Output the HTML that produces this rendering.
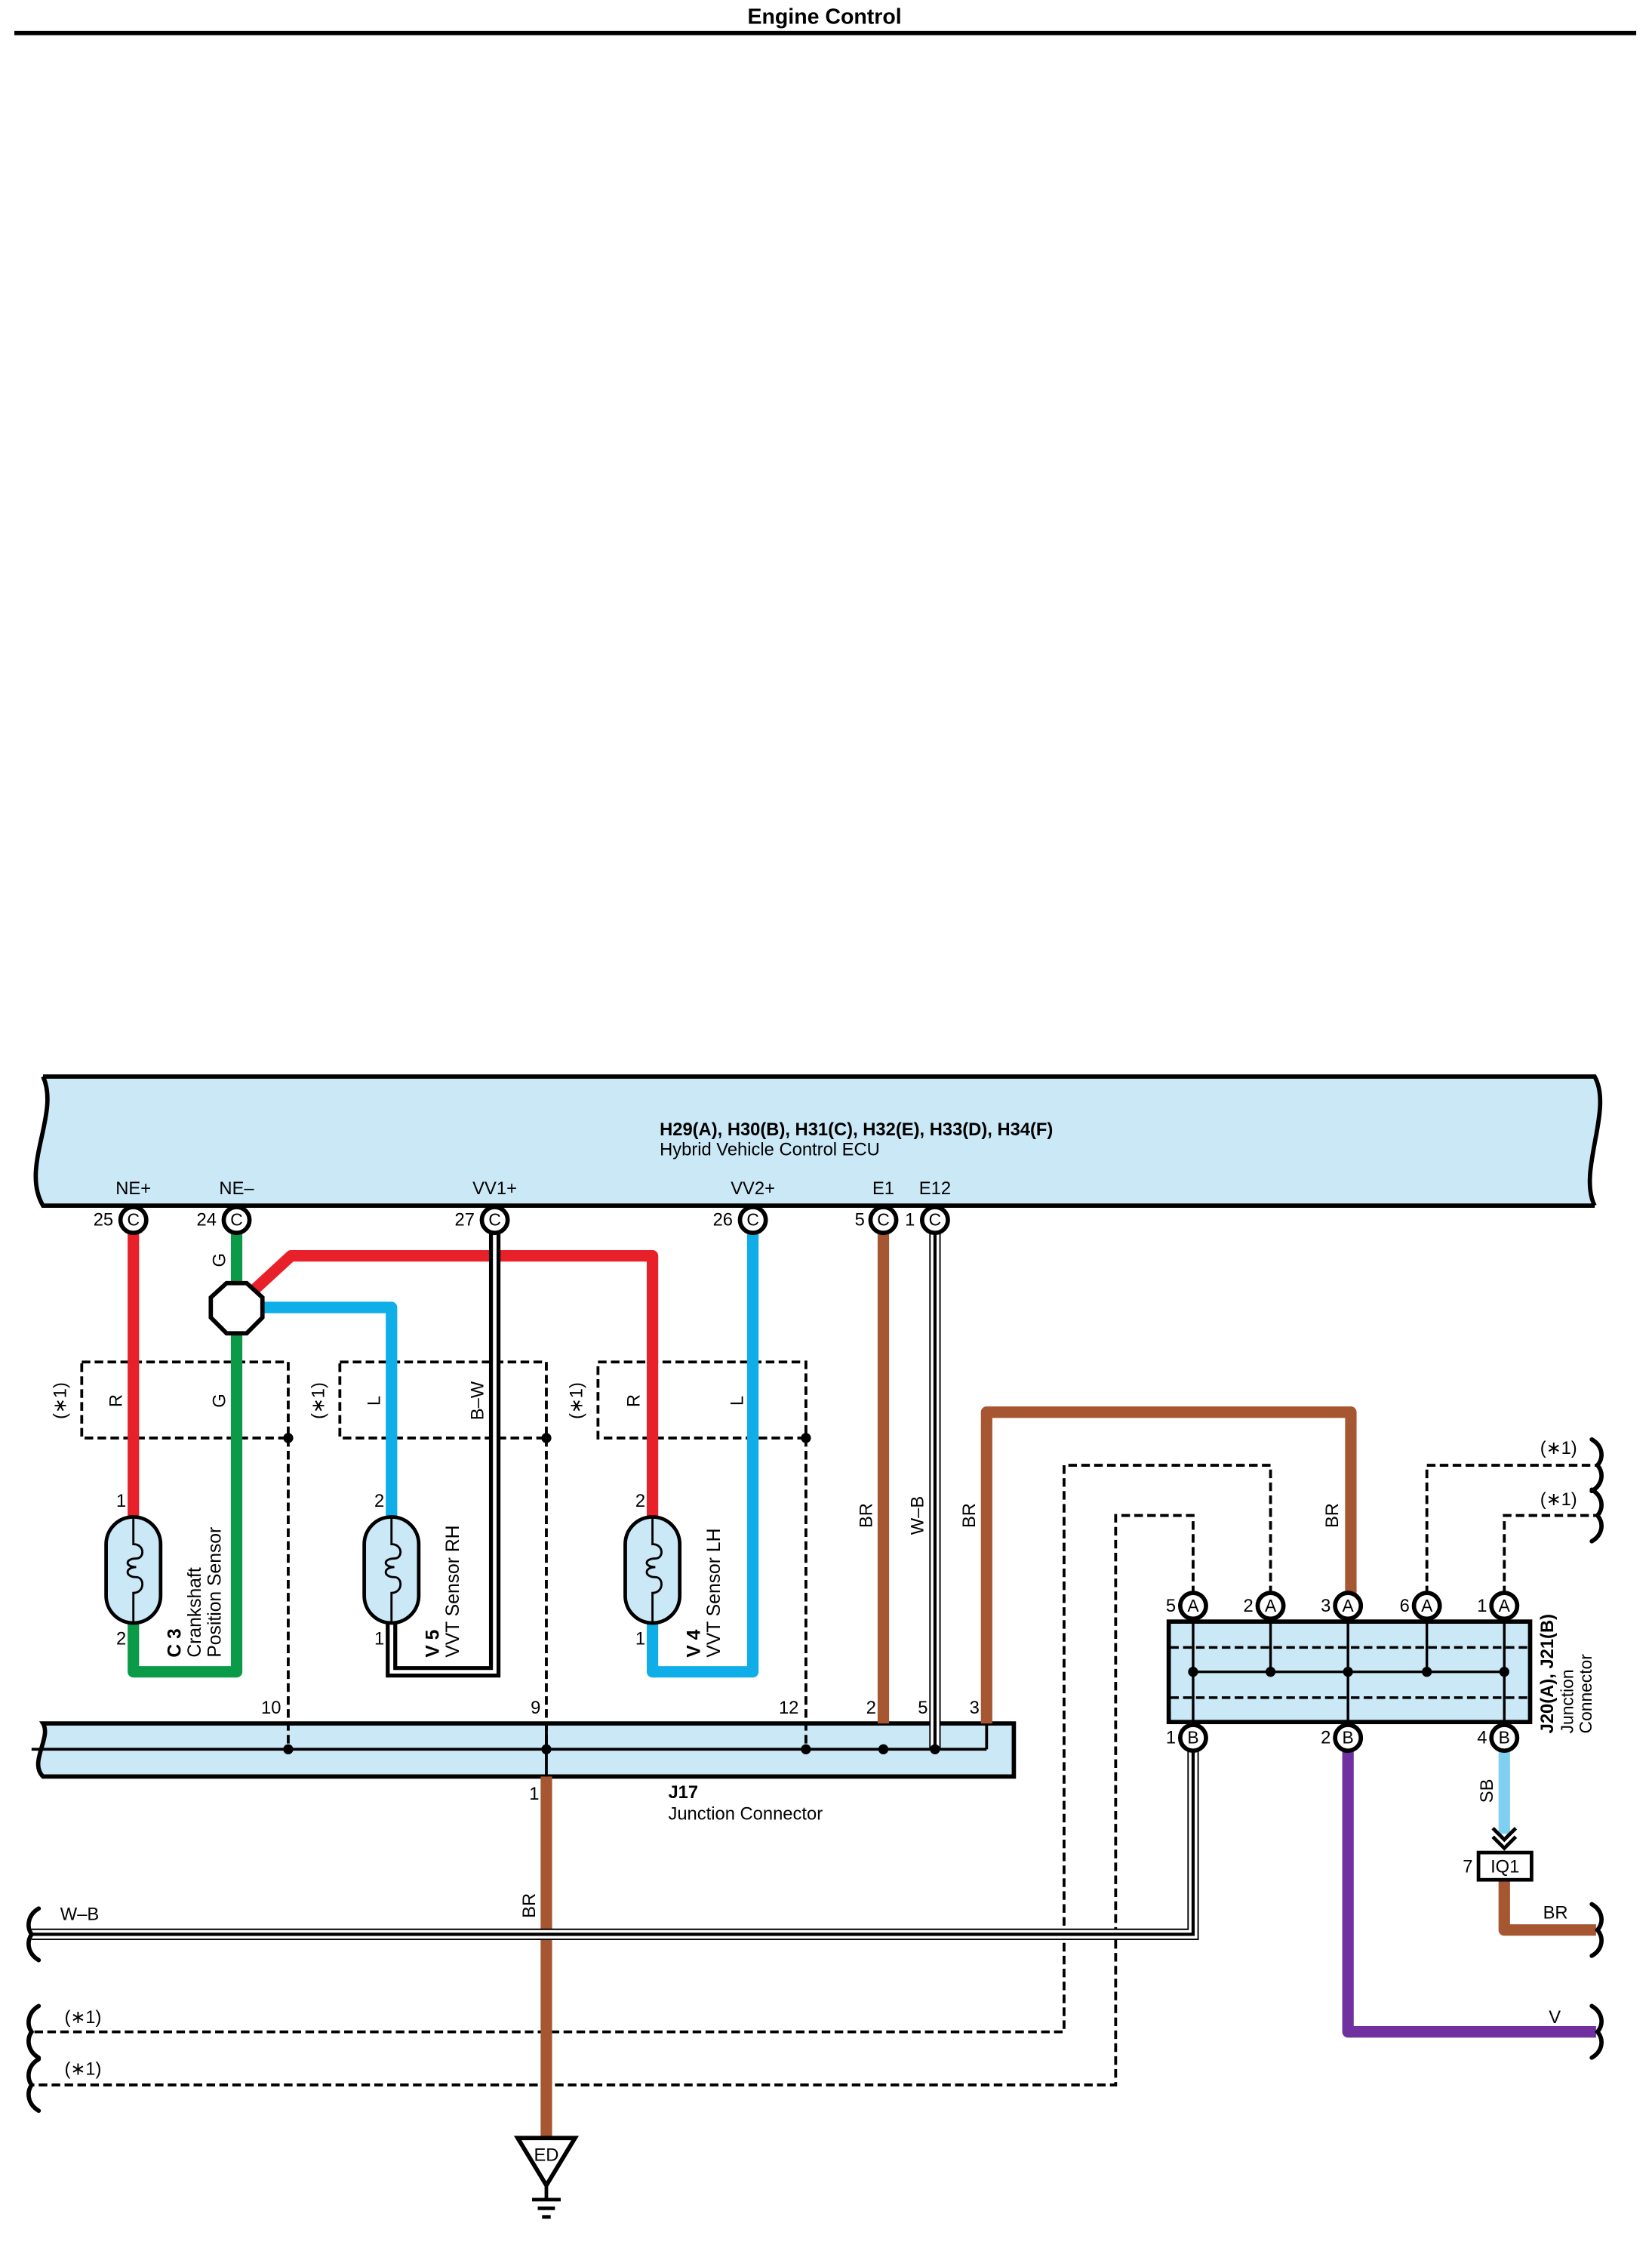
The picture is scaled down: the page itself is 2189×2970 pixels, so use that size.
<!DOCTYPE html>
<html><head><meta charset="utf-8"><style>html,body{margin:0;padding:0;background:#fff}svg{display:block}</style></head>
<body>
<svg width="2189" height="2970" viewBox="0 1.5 1152 1563" xmlns="http://www.w3.org/2000/svg" font-family="Liberation Sans, sans-serif" font-size="12.5">
<defs>
<g id="sensor">
<rect x="-19" y="-37" width="38" height="74" rx="19" fill="#cbe8f7" stroke="#000" stroke-width="2.5"/>
<path d="M0,-37 V-18 C8,-18 8,-8 2,-8 C-6,-8 -6,-2 2,-2 C-6,-2 -6,5 2,5 C8,5 8,16 0,16 V37" fill="none" stroke="#000" stroke-width="1.5"/>
</g>
</defs>
<rect y="0" width="1152" height="1570" fill="#fff"/>
<text x="575" y="18" font-size="15" font-weight="bold" text-anchor="middle">Engine Control</text>
<line x1="10" y1="24.5" x2="1141" y2="24.5" stroke="#000" stroke-width="3"/>

<path d="M30,752 L1112,752 C1125,775 1100,818 1112,842 L30,842 C14,815 42,778 30,752 Z" fill="#cbe8f7"/>
<path d="M30,752 L1112,752 C1125,775 1100,818 1112,842 M1112,842 L30,842 C14,815 42,778 30,752" fill="none" stroke="#000" stroke-width="3"/>
<text x="460" y="793" font-size="12.5" font-weight="bold">H29(A), H30(B), H31(C), H32(E), H33(D), H34(F)</text>
<text x="460" y="807" font-size="12.5">Hybrid Vehicle Control ECU</text>
<g text-anchor="middle">
<text x="93" y="834">NE+</text><text x="165" y="834">NE–</text><text x="345" y="834">VV1+</text><text x="525" y="834">VV2+</text><text x="616" y="834">E1</text><text x="652" y="834">E12</text>
</g>

<path d="M30,1203 L707,1203 L707,1240 L30,1240 C20,1230 36,1213 30,1203 Z" fill="#cbe8f7" stroke="#000" stroke-width="3"/>
<line x1="22" y1="1221" x2="688" y2="1221" stroke="#000" stroke-width="2"/>
<line x1="688" y1="1203" x2="688" y2="1221" stroke="#000" stroke-width="2"/>

<rect x="815" y="1132" width="252" height="70" fill="#cbe8f7" stroke="#000" stroke-width="3"/>
<g stroke="#000" stroke-width="1.8" stroke-dasharray="6,3"><line x1="816" y1="1150" x2="1066" y2="1150"/><line x1="816" y1="1185" x2="1066" y2="1185"/></g>
<g stroke="#000" stroke-width="1.8">
<line x1="832" y1="1167" x2="1049" y2="1167"/>
<line x1="832" y1="1125" x2="832" y2="1210"/><line x1="886" y1="1125" x2="886" y2="1167"/><line x1="940" y1="1125" x2="940" y2="1210"/><line x1="995" y1="1125" x2="995" y2="1167"/><line x1="1049" y1="1125" x2="1049" y2="1210"/>
</g>
<g fill="#000"><circle cx="832" cy="1167" r="3.5"/><circle cx="886" cy="1167" r="3.5"/><circle cx="940" cy="1167" r="3.5"/><circle cx="995" cy="1167" r="3.5"/><circle cx="1049" cy="1167" r="3.5"/></g>
<g font-size="12" transform="rotate(-90)">
<text x="-1210" y="1083" font-weight="bold" font-size="12.5">J20(A), J21(B)</text>
<text x="-1210" y="1097">Junction</text>
<text x="-1210" y="1110">Connector</text>
</g>

<g fill="none" stroke="#000" stroke-width="2" stroke-dasharray="6,3">
<path d="M201,1004 V1221 M381,1004 V1221 M562,1004 V1221"/>
<rect x="57" y="951" width="144" height="53"/>
<rect x="237" y="951" width="144" height="53"/>
<rect x="417" y="951" width="145" height="53"/>
<path d="M832,1113 V1058 H778 V1455 H22"/>
<path d="M886,1113 V1023 H742 V1418 H22"/>
<path d="M995,1113 V1023 H1113"/>
<path d="M1049,1113 V1058 H1113"/>
</g>
<g fill="#000"><circle cx="201" cy="1004" r="3.5"/><circle cx="381" cy="1004" r="3.5"/><circle cx="562" cy="1004" r="3.5"/></g>

<g fill="none" stroke-width="8" stroke-linejoin="round">
<path d="M93,858 V1060" stroke="#e8202a"/>
<path d="M93,1132 V1167 H165 V858" stroke="#0a9a48"/>
<path d="M178,900 L203,877 H455 V1060" stroke="#e8202a"/>
<path d="M182,913 H273 V1060" stroke="#10aee8"/>
<path d="M455,1132 V1167 H525 V858" stroke="#10aee8"/>
<path d="M616,858 V1203" stroke="#a65732"/>
<path d="M688,1203 V986 H942 V1113" stroke="#a65732"/>
<path d="M381,1240 V1492" stroke="#a65732"/>
<path d="M940,1221 V1418 H1113" stroke="#7030a0"/>
<path d="M1049,1221 V1280" stroke="#7fd0f0"/>
<path d="M1049,1312 V1347 H1113" stroke="#a65732"/>
</g>
<g fill="none">
<path d="M273,1132 V1167 H345 V858" stroke="#000" stroke-width="8"/>
<path d="M273,1132 V1167 H345 V858" stroke="#fff" stroke-width="2.5"/>
</g>
<g fill="none">
<path d="M652,858 V1221" stroke="#000" stroke-width="8"/>
<path d="M652,858 V1221" stroke="#fff" stroke-width="6"/>
<path d="M652,858 V1221" stroke="#000" stroke-width="2.2"/>
<path d="M832,1221 V1350 H22" stroke="#000" stroke-width="8"/>
<path d="M832,1221 V1350 H22" stroke="#fff" stroke-width="6"/>
<path d="M832,1221 V1350 H22" stroke="#000" stroke-width="2.2"/>
</g>
<g fill="#000"><circle cx="201" cy="1221" r="3.5"/><circle cx="381" cy="1221" r="3.5"/><circle cx="562" cy="1221" r="3.5"/><circle cx="616" cy="1221" r="3.5"/><circle cx="652" cy="1221" r="3.5"/></g>
<line x1="381" y1="1203" x2="381" y2="1240" stroke="#000" stroke-width="2"/>

<polygon points="158,896 172,896 183,906 183,920 172,931 158,931 147,920 147,906" fill="#fff" stroke="#000" stroke-width="3"/>

<use href="#sensor" x="93" y="1096"/>
<use href="#sensor" x="273" y="1096"/>
<use href="#sensor" x="455" y="1096"/>

<g fill="#fff" stroke="#000" stroke-width="3">
<circle cx="93" cy="852" r="9"/><circle cx="165" cy="852" r="9"/><circle cx="345" cy="852" r="9"/><circle cx="525" cy="852" r="9"/><circle cx="616" cy="852" r="9"/><circle cx="652" cy="852" r="9"/>
<circle cx="832" cy="1121" r="9"/><circle cx="886" cy="1121" r="9"/><circle cx="940" cy="1121" r="9"/><circle cx="995" cy="1121" r="9"/><circle cx="1049" cy="1121" r="9"/>
<circle cx="832" cy="1213" r="9"/><circle cx="940" cy="1213" r="9"/><circle cx="1049" cy="1213" r="9"/>
</g>
<g font-size="12" text-anchor="middle">
<text x="93" y="856">C</text><text x="165" y="856">C</text><text x="345" y="856">C</text><text x="525" y="856">C</text><text x="616" y="856">C</text><text x="652" y="856">C</text>
<text x="832" y="1125">A</text><text x="886" y="1125">A</text><text x="940" y="1125">A</text><text x="995" y="1125">A</text><text x="1049" y="1125">A</text>
<text x="832" y="1217">B</text><text x="940" y="1217">B</text><text x="1049" y="1217">B</text>
</g>
<g text-anchor="end">
<text x="79" y="856">25</text><text x="151" y="856">24</text><text x="331" y="856">27</text><text x="511" y="856">26</text><text x="603" y="856">5</text><text x="638" y="856">1</text>
<text x="820" y="1125">5</text><text x="874" y="1125">2</text><text x="928" y="1125">3</text><text x="983" y="1125">6</text><text x="1037" y="1125">1</text>
<text x="820" y="1217">1</text><text x="928" y="1217">2</text><text x="1037" y="1217">4</text>
<text x="88" y="1052">1</text><text x="88" y="1148">2</text>
<text x="268" y="1052">2</text><text x="268" y="1148">1</text>
<text x="450" y="1052">2</text><text x="450" y="1148">1</text>
<text x="196" y="1196">10</text><text x="377" y="1196">9</text><text x="557" y="1196">12</text><text x="611" y="1196">2</text><text x="647" y="1196">5</text><text x="683" y="1196">3</text>
<text x="376" y="1256">1</text>
<text x="1027" y="1307">7</text>
</g>

<g text-anchor="middle">
<text transform="translate(46,978) rotate(-90)">(∗1)</text>
<text transform="translate(226,978) rotate(-90)">(∗1)</text>
<text transform="translate(406,978) rotate(-90)">(∗1)</text>
<text transform="translate(85,978) rotate(-90)">R</text>
<text transform="translate(157,978) rotate(-90)">G</text>
<text transform="translate(157,880) rotate(-90)">G</text>
<text transform="translate(265,978) rotate(-90)">L</text>
<text transform="translate(337,978) rotate(-90)">B–W</text>
<text transform="translate(446,978) rotate(-90)">R</text>
<text transform="translate(518,978) rotate(-90)">L</text>
<text transform="translate(608,1058) rotate(-90)">BR</text>
<text transform="translate(644,1058) rotate(-90)">W–B</text>
<text transform="translate(680,1058) rotate(-90)">BR</text>
<text transform="translate(933,1058) rotate(-90)">BR</text>
<text transform="translate(373,1330) rotate(-90)">BR</text>
<text transform="translate(1041,1250) rotate(-90)">SB</text>
</g>
<g font-size="13" transform="rotate(-90)">
<text x="-1157" y="126" font-weight="bold">C 3</text>
<text x="-1157" y="140">Crankshaft</text>
<text x="-1157" y="154">Position Sensor</text>
<text x="-1157" y="306" font-weight="bold">V 5</text>
<text x="-1157" y="320">VVT Sensor RH</text>
<text x="-1157" y="488" font-weight="bold">V 4</text>
<text x="-1157" y="502">VVT Sensor LH</text>
</g>

<g>
<text x="466" y="1255" font-weight="bold">J17</text>
<text x="466" y="1270">Junction Connector</text>
<text x="42" y="1340">W–B</text>
<text x="45" y="1412">(∗1)</text>
<text x="45" y="1448">(∗1)</text>
<text x="1074" y="1015">(∗1)</text>
<text x="1074" y="1051">(∗1)</text>
<text x="1076" y="1339">BR</text>
<text x="1080" y="1412">V</text>
</g>

<g fill="none" stroke="#000" stroke-width="2.5">
<path d="M1041,1276 L1049,1284 L1057,1276"/>
<path d="M1041,1282 L1049,1290 L1057,1282"/>
</g>
<rect x="1031" y="1293" width="37" height="19" fill="#fff" stroke="#000" stroke-width="2.5"/>
<text x="1049.5" y="1307" text-anchor="middle">IQ1</text>

<polygon points="361,1492 401,1492 381,1525" fill="#fff" stroke="#000" stroke-width="3"/>
<text x="381" y="1508" text-anchor="middle">ED</text>
<g stroke="#000" stroke-width="2.5">
<line x1="381" y1="1525" x2="381" y2="1535"/><line x1="371" y1="1535" x2="391" y2="1535"/><line x1="375" y1="1541" x2="387" y2="1541"/><line x1="378" y1="1547" x2="384" y2="1547"/>
</g>

<g fill="none" stroke="#000" stroke-width="3" stroke-linecap="round">
<path d="M27,1332 C20,1336 18,1344 22,1350 C18,1356 20,1364 27,1368"/>
<path d="M27,1400 C20,1404 18,1412 22,1418 C18,1424 20,1432 27,1436"/>
<path d="M27,1437 C20,1441 18,1449 22,1455 C18,1461 20,1469 27,1473"/>
<path d="M1110,1005 C1117,1009 1119,1017 1114,1023 C1119,1029 1117,1037 1110,1041"/>
<path d="M1110,1040 C1117,1044 1119,1052 1114,1058 C1119,1064 1117,1072 1110,1076"/>
<path d="M1110,1329 C1117,1333 1119,1341 1114,1347 C1119,1353 1117,1361 1110,1365"/>
<path d="M1110,1400 C1117,1404 1119,1412 1114,1418 C1119,1424 1117,1432 1110,1436"/>
</g>
</svg>
</body></html>
